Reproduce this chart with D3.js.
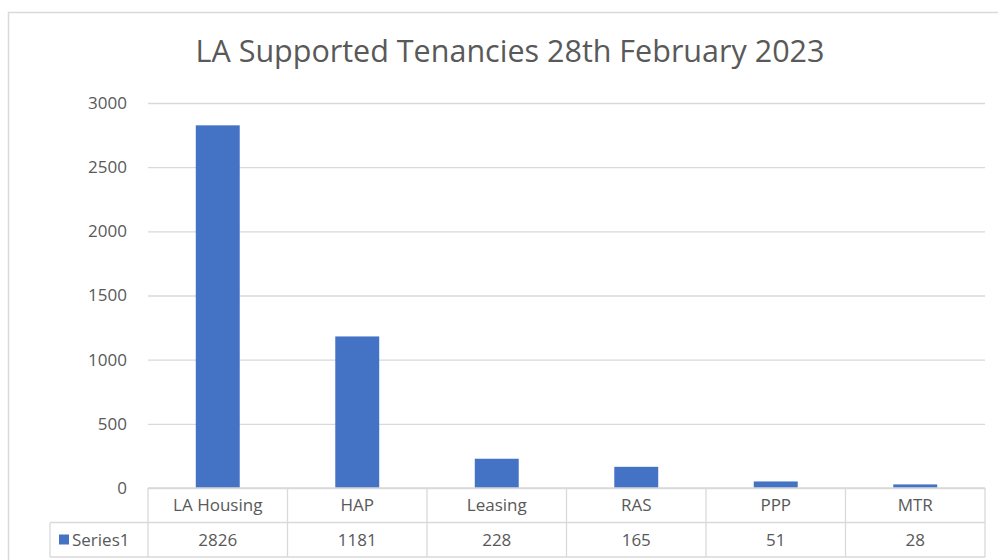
<!DOCTYPE html>
<html>
<head>
<meta charset="utf-8">
<script src="https://cdn.jsdelivr.net/npm/d3@7"></script>
<style>
  body { margin: 0; background: #fff; }
  text { font-family: "Open Sans", sans-serif; fill: #595959; }
</style>
</head>
<body>
<div id="chart"></div>
<script>
var categories = ["LA Housing", "HAP", "Leasing", "RAS", "PPP", "MTR"];
var values = [2826, 1181, 228, 165, 51, 28];
var yTicks = [0, 500, 1000, 1500, 2000, 2500, 3000];
var seriesName = "Series1";
var title = "LA Supported Tenancies 28th February 2023";

var width = 998, height = 560;
var margin = { top: 103, bottom: 72, left: 148, right: 13 };
var rowH = 34.5;
var legendLeft = 50;

var svg = d3.select("#chart").append("svg")
    .attr("width", width)
    .attr("height", height);

// chart area border
svg.append("rect")
    .attr("x", 8.5).attr("y", 12.5)
    .attr("width", 1010).attr("height", 600)
    .attr("fill", "#fff")
    .attr("stroke", "#d9d9d9")
    .attr("stroke-width", 1.5);

svg.append("text")
    .attr("x", 510).attr("y", 62)
    .attr("text-anchor", "middle")
    .style("font-size", "30.5px")
    .text(title);

var x = d3.scaleBand()
    .domain(categories)
    .range([margin.left, width - margin.right]);

var y = d3.scaleLinear()
    .domain([0, 3000])
    .range([height - margin.bottom, margin.top]);

var y0 = y(0);

// gridlines + y labels
var yAxis = svg.append("g")
    .attr("transform", "translate(" + margin.left + ",0)")
    .call(d3.axisLeft(y).tickValues(yTicks).tickFormat(d3.format("d"))
        .tickSize(-(width - margin.right - margin.left)).tickPadding(21));
yAxis.select(".domain").remove();
yAxis.selectAll(".tick line").attr("stroke", "#d9d9d9").attr("stroke-width", 1.3);
yAxis.selectAll(".tick text")
    .style("font-size", "17px")
    .style("font-family", "'Open Sans', sans-serif")
    .attr("fill", "#595959");

// bars
var barW = x.bandwidth() * 0.315;
svg.selectAll(".bar")
    .data(values)
    .enter().append("rect")
    .attr("class", "bar")
    .attr("x", function(d, i) { return x(categories[i]) + (x.bandwidth() - barW) / 2; })
    .attr("y", function(d) { return y(d); })
    .attr("width", barW)
    .attr("height", function(d) { return y0 - y(d); })
    .attr("fill", "#4472c4");

// data table
var table = svg.append("g").attr("stroke", "#d9d9d9").attr("stroke-width", 1.3);
var right = width - margin.right;
table.append("line").attr("x1", margin.left).attr("x2", right).attr("y1", y0).attr("y2", y0);
table.append("line").attr("x1", legendLeft).attr("x2", right).attr("y1", y0 + rowH).attr("y2", y0 + rowH);
table.append("line").attr("x1", legendLeft).attr("x2", right).attr("y1", y0 + 2 * rowH).attr("y2", y0 + 2 * rowH);
table.append("line").attr("x1", legendLeft).attr("x2", legendLeft).attr("y1", y0 + rowH).attr("y2", y0 + 2 * rowH);
table.selectAll(".vline")
    .data(categories.concat(["end"]))
    .enter().append("line")
    .attr("x1", function(d, i) { return margin.left + i * x.bandwidth(); })
    .attr("x2", function(d, i) { return margin.left + i * x.bandwidth(); })
    .attr("y1", y0).attr("y2", y0 + 2 * rowH);

svg.selectAll(".cat")
    .data(categories)
    .enter().append("text")
    .attr("x", function(d) { return x(d) + x.bandwidth() / 2; })
    .attr("y", y0 + 23)
    .attr("text-anchor", "middle")
    .style("font-size", "17px")
    .text(function(d) { return d; });

svg.selectAll(".val")
    .data(values)
    .enter().append("text")
    .attr("x", function(d, i) { return x(categories[i]) + x.bandwidth() / 2; })
    .attr("y", y0 + rowH + 23)
    .attr("text-anchor", "middle")
    .style("font-size", "17px")
    .text(function(d) { return d; });

svg.append("rect")
    .attr("x", 59).attr("y", y0 + rowH + 12)
    .attr("width", 10).attr("height", 10)
    .attr("fill", "#4472c4");
svg.append("text")
    .attr("x", 72).attr("y", y0 + rowH + 23)
    .style("font-size", "17px")
    .text(seriesName);
</script>
</body>
</html>
